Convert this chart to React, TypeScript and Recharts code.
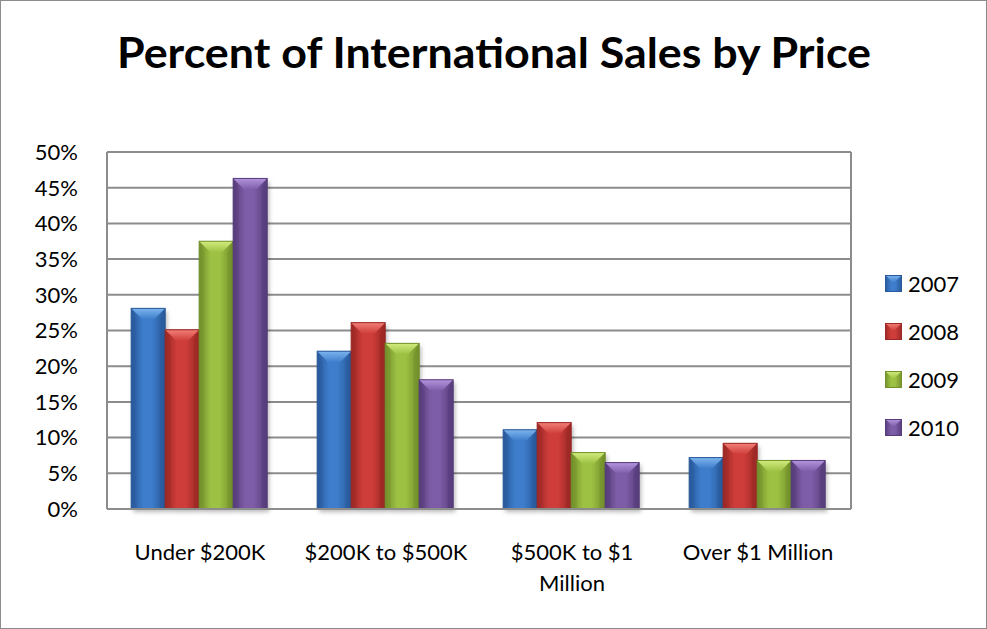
import React from 'react';
import { BarChart, Bar, XAxis, YAxis, CartesianGrid } from 'recharts';

const categories = ['Under $200K', '$200K to $500K', '$500K to $1 Million', 'Over $1 Million'];
const years = ['2007', '2008', '2009', '2010'];
const s2007 = [28.1, 22.1, 11.1, 7.2];
const s2008 = [25.1, 26.1, 12.1, 9.2];
const s2009 = [37.5, 23.2, 7.9, 6.8];
const s2010 = [46.3, 18.1, 6.5, 6.8];
const yTicks = [0, 5, 10, 15, 20, 25, 30, 35, 40, 45, 50];

const data = categories.map((name, i) => ({
  name,
  y2007: s2007[i],
  y2008: s2008[i],
  y2009: s2009[i],
  y2010: s2010[i],
}));

const palette: Record<string, { base: string; light: string; dark: string }> = {
  '2007': { base: '#3d7dcb', light: '#7cb4ee', dark: '#28599a' },
  '2008': { base: '#cf3d3a', light: '#f27f77', dark: '#9a2825' },
  '2009': { base: '#9dc143', light: '#d2ec7e', dark: '#72902b' },
  '2010': { base: '#7e5da8', light: '#b394dd', dark: '#563c7a' },
};

const FONT = 'Lato, "Open Sans", sans-serif';
const GRID = '#8c8c8c';

function BevelBar(props: any) {
  const { x, y, width, height, year } = props;
  if (!height || height <= 0) return null;
  const c = palette[year];
  const bev = Math.min(11, height / 2);
  return (
    <g>
      <rect x={x + 2} y={y + 3} width={width} height={height} fill="rgba(0,0,0,0.28)" filter="url(#barShadow)" />
      <rect x={x} y={y} width={width} height={height} fill={`url(#body${year})`} />
      <polygon
        points={`${x},${y} ${x + width},${y} ${x + width - bev},${y + bev} ${x + bev},${y + bev}`}
        fill={`url(#top${year})`}
      />
      <polygon
        points={`${x},${y} ${x + bev * 0.5},${y + bev} ${x + bev * 0.5},${y + height} ${x},${y + height}`}
        fill={c.dark}
        opacity={0.35}
      />
      <polygon
        points={`${x + width},${y} ${x + width - bev * 0.5},${y + bev} ${x + width - bev * 0.5},${y + height} ${x + width},${y + height}`}
        fill={c.dark}
        opacity={0.55}
      />
      <rect x={x} y={y} width={width} height={height} fill="none" stroke={c.dark} strokeWidth={1} />
    </g>
  );
}

function CategoryTick(props: any) {
  const { x, y, payload } = props;
  const words = String(payload.value).split(' ');
  const lines: string[] = [];
  let cur = '';
  words.forEach((w) => {
    const next = cur ? cur + ' ' + w : w;
    if (next.length > 15 && cur) {
      lines.push(cur);
      cur = w;
    } else {
      cur = next;
    }
  });
  if (cur) lines.push(cur);
  return (
    <g>
      {lines.map((line, i) => (
        <text key={i} x={x} y={y + 49 + i * 31} textAnchor="middle" fontSize={22} fontFamily={FONT} fill="#000">
          {line}
        </text>
      ))}
    </g>
  );
}

function Defs() {
  return (
    <svg width={0} height={0} style={{ position: 'absolute' }}>
      <defs>
        <filter id="barShadow" x="-20%" y="-20%" width="140%" height="140%">
          <feGaussianBlur stdDeviation="2" />
        </filter>
        {years.map((yr) => {
          const c = palette[yr];
          return (
            <React.Fragment key={yr}>
              <linearGradient id={`body${yr}`} x1="0" y1="0" x2="1" y2="0">
                <stop offset="0%" stopColor={c.dark} />
                <stop offset="35%" stopColor={c.base} />
                <stop offset="60%" stopColor={c.base} />
                <stop offset="100%" stopColor={c.dark} />
              </linearGradient>
              <linearGradient id={`top${yr}`} x1="0" y1="0" x2="0" y2="1">
                <stop offset="0%" stopColor={c.light} />
                <stop offset="100%" stopColor={c.base} />
              </linearGradient>
            </React.Fragment>
          );
        })}
      </defs>
    </svg>
  );
}

export default function App() {
  return (
    <div style={{ position: 'absolute', left: 0, top: 0, width: 987, height: 629, background: '#fff' }}>
      <Defs />
      <div
        style={{
          position: 'absolute',
          left: 0,
          top: 0,
          width: 985,
          height: 627,
          border: '1px solid #8c8c8c',
        }}
      />
      <svg width={987} height={120} style={{ position: 'absolute', left: 0, top: 0 }}>
        <text
          x={494}
          y={68}
          textAnchor="middle"
          fontSize={42}
          fontWeight={700}
          fontFamily={FONT}
          textLength={754}
          lengthAdjust="spacingAndGlyphs"
          fill="#000"
        >
          Percent of International Sales by Price
        </text>
      </svg>
      <div style={{ position: 'absolute', left: 0, top: 0 }}>
        <BarChart
          width={987}
          height={629}
          data={data}
          margin={{ top: 152, right: 136, bottom: 0, left: 0 }}
          barCategoryGap="13%"
          barGap={0}
        >
          <CartesianGrid
            stroke={GRID}
            strokeWidth={2}
            vertical
            verticalCoordinatesGenerator={({ offset }: any) => [offset.left, offset.left + offset.width]}
          />
          <XAxis
            dataKey="name"
            height={120}
            tickLine={false}
            tickSize={0}
            axisLine={{ stroke: GRID, strokeWidth: 2 }}
            tick={<CategoryTick />}
            interval={0}
          />
          <YAxis
            width={107}
            domain={[0, 50]}
            ticks={yTicks}
            tickFormatter={(v: number) => `${v}%`}
            tickLine={false}
            tickSize={0}
            tickMargin={29}
            axisLine={{ stroke: GRID, strokeWidth: 2 }}
            tick={{ fontSize: 22, fontFamily: FONT, fill: '#000' }}
          />
          {years.map((yr) => (
            <Bar
              key={yr}
              dataKey={`y${yr}`}
              name={yr}
              isAnimationActive={false}
              shape={(p: any) => <BevelBar {...p} year={yr} />}
            />
          ))}
        </BarChart>
      </div>
      {years.map((yr, i) => (
        <div
          key={yr}
          style={{
            position: 'absolute',
            left: 885,
            top: 283 + i * 48 - 12,
            height: 24,
            display: 'flex',
            alignItems: 'center',
            fontFamily: FONT,
            fontSize: 22,
            color: '#000',
          }}
        >
          <svg width={17} height={17} style={{ marginRight: 6 }}>
            <rect x={0} y={0} width={17} height={17} fill={`url(#body${yr})`} />
            <polygon points="0,0 17,0 8.5,8 " fill={`url(#top${yr})`} />
            <rect x={0.5} y={0.5} width={16} height={16} fill="none" stroke={palette[yr].dark} />
          </svg>
          {yr}
        </div>
      ))}
    </div>
  );
}
